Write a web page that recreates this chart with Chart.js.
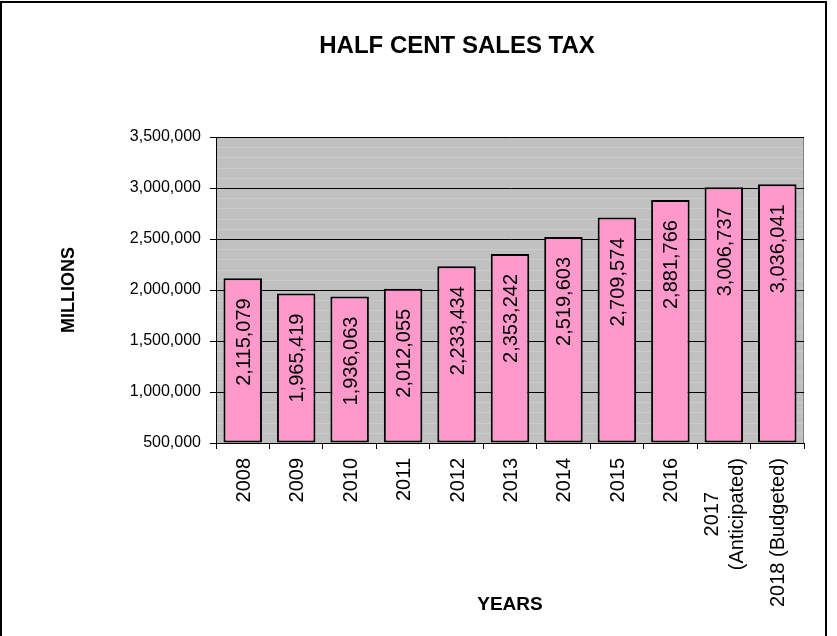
<!DOCTYPE html>
<html>
<head>
<meta charset="utf-8">
<script src="https://cdn.jsdelivr.net/npm/chart.js@4"></script>
<style>
  body { margin: 0; background: #fff; }
  #wrap { width: 837px; height: 636px; }
</style>
</head>
<body>
<div id="wrap"><canvas id="myChart"></canvas></div>
<script>
const years = [["2008"], ["2009"], ["2010"], ["2011"], ["2012"], ["2013"], ["2014"], ["2015"], ["2016"],
  ["2017", "(Anticipated)"], ["2018 (Budgeted)"]];
const sales = [2115079, 1965419, 1936063, 2012055, 2233434, 2353242, 2519603, 2709574, 2881766, 3006737, 3036041];
const yMin = 500000, yMax = 3500000, yStep = 500000;
const chartTitle = "HALF CENT SALES TAX";

Chart.defaults.font.family = '"Liberation Sans", Arial, sans-serif';
Chart.defaults.color = '#000';

const fmt = v => Number(v).toLocaleString('en-US');

// gray plot background with faint stripes, frame and page border
const backdrop = {
  id: 'backdrop',
  beforeDraw(chart) {
    const c = chart.ctx, a = chart.chartArea, y = chart.scales.y;
    c.save();
    c.fillStyle = '#fff';
    c.fillRect(0, 0, chart.width, chart.height);
    c.fillStyle = '#c0c0c0';
    c.fillRect(a.left, a.top, a.right - a.left, a.bottom - a.top);
    c.strokeStyle = '#cbcbcb';
    c.lineWidth = 1;
    for (let v = yMin + 100000; v < yMax; v += 100000) {
      const py = Math.round(y.getPixelForValue(v)) + 0.5;
      c.beginPath(); c.moveTo(a.left, py); c.lineTo(a.right, py); c.stroke();
    }
    c.strokeStyle = '#808080';
    c.strokeRect(a.left + 0.5, a.top + 0.5, a.right - a.left - 1, a.bottom - a.top);
    c.strokeStyle = '#000';
    c.lineWidth = 2;
    c.strokeRect(1, 2, 825, chart.height + 10);
    c.restore();
  },
  afterDraw(chart) {
    const c = chart.ctx, x = chart.scales.x;
    c.save();
    // title
    c.font = 'bold 24px "Liberation Sans", Arial, sans-serif';
    c.fillStyle = '#000';
    c.textAlign = 'center';
    c.fillText(chartTitle, 457, 53);
    // x tick labels, rotated, lines centred on each other
    c.font = '20px "Liberation Sans", Arial, sans-serif';
    years.forEach((lines, i) => {
      const px = x.getPixelForTick(i);
      const w = Math.max(...lines.map(s => c.measureText(s).width));
      c.save();
      c.translate(px, chart.chartArea.bottom + 15 + w / 2);
      c.rotate(-Math.PI / 2);
      c.textAlign = 'center';
      lines.forEach((s, j) => c.fillText(s, 0, 7 + (j - (lines.length - 1) / 2) * 25));
      c.restore();
    });
    // value labels inside bars
    const meta = chart.getDatasetMeta(0);
    c.font = '20px "Liberation Sans", Arial, sans-serif';
    meta.data.forEach((bar, i) => {
      c.save();
      c.translate(bar.x, bar.y + 20);
      c.rotate(-Math.PI / 2);
      c.textAlign = 'right';
      c.fillText(fmt(sales[i]), 0, 7);
      c.restore();
    });
    c.restore();
  }
};

const ctx = document.getElementById('myChart');

new Chart(ctx, {
  type: 'bar',
  data: {
    labels: years,
    datasets: [{
      data: sales,
      base: yMin,
      backgroundColor: '#ff99cc',
      borderColor: '#000',
      borderWidth: 2,
      borderSkipped: false,
      barPercentage: 0.72,
      categoryPercentage: 1,
    }]
  },
  options: {
    responsive: true,
    maintainAspectRatio: false,
    animation: false,
    layout: { padding: { top: 137, left: 54, right: 33, bottom: 16 } },
    plugins: {
      legend: { display: false },
      tooltip: { enabled: false },
    },
    scales: {
      x: {
        afterFit(scale) { scale.height = 177; },
        grid: { drawOnChartArea: false, drawTicks: true, tickLength: 6, tickColor: '#000' },
        border: { color: '#000', width: 1 },
        ticks: { display: false },
        title: { display: true, text: 'YEARS', font: { size: 19, weight: 'bold' }, color: '#000' },
      },
      y: {
        min: yMin,
        max: yMax,
        afterFit(scale) { scale.width = 162; },
        grid: { color: '#000', tickLength: 6, tickColor: '#000' },
        border: { color: '#000', width: 1 },
        ticks: { stepSize: yStep, padding: 9, font: { size: 16 }, color: '#000', callback: v => fmt(v) },
        title: { display: true, text: 'MILLIONS', font: { size: 18, weight: 'bold' }, color: '#000' },
      },
    },
  },
  plugins: [backdrop],
});
</script>
</body>
</html>
